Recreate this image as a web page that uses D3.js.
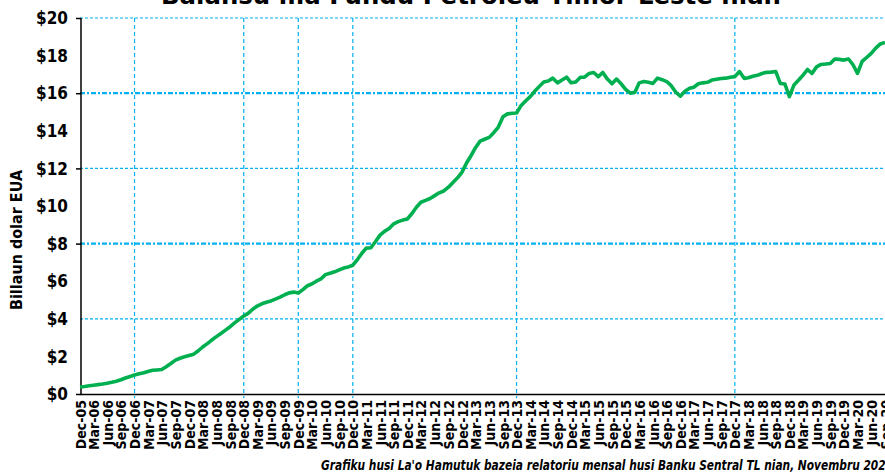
<!DOCTYPE html>
<html>
<head>
<meta charset="utf-8">
<script src="https://cdn.jsdelivr.net/npm/d3@7"></script>
<style>
  body { margin: 0; background: #fff; }
  svg { display: block; }
  text { font-family: "Liberation Sans Narrow", "DejaVu Sans Condensed", "Liberation Sans", sans-serif; }
</style>
</head>
<body>
<div id="chart"></div>
<script>
// monthly balance of the Petroleum Fund, billion USD, Dec-05 .. Sep-20
const balances = [
  0.37, 0.40, 0.44, 0.47, 0.50, 0.53, 0.57, 0.62, 0.68, 0.76, 0.85, 0.93,
  1.01, 1.08, 1.13, 1.20, 1.26, 1.28, 1.30, 1.45, 1.62, 1.80, 1.90, 1.98,
  2.05, 2.12, 2.30, 2.50, 2.68, 2.87, 3.05, 3.22, 3.40, 3.58, 3.78, 3.97,
  4.15, 4.30, 4.52, 4.68, 4.80, 4.88, 4.95, 5.05, 5.15, 5.28, 5.38, 5.42,
  5.37, 5.55, 5.76, 5.85, 6.00, 6.12, 6.35, 6.42, 6.50, 6.60, 6.70, 6.76,
  6.85, 7.15, 7.50, 7.76, 7.78, 8.10, 8.45, 8.65, 8.80, 9.05, 9.17, 9.25,
  9.31, 9.60, 9.95, 10.20, 10.30, 10.40, 10.55, 10.70, 10.80, 11.00, 11.25, 11.50,
  11.80, 12.30, 12.70, 13.10, 13.45, 13.55, 13.65, 13.90, 14.20, 14.75, 14.90, 14.93,
  14.95, 15.35, 15.60, 15.80, 16.10, 16.35, 16.60, 16.65, 16.80, 16.55, 16.70, 16.85,
  16.55, 16.60, 16.85, 16.85, 17.05, 17.10, 16.88, 17.10, 16.75, 16.50, 16.75, 16.50,
  16.20, 16.00, 16.05, 16.55, 16.62, 16.58, 16.52, 16.80, 16.72, 16.62, 16.40, 16.05,
  15.84, 16.10, 16.26, 16.32, 16.50, 16.55, 16.58, 16.70, 16.74, 16.78, 16.80, 16.85,
  16.88, 17.15, 16.79, 16.82, 16.90, 16.95, 17.05, 17.11, 17.12, 17.15, 16.52, 16.49,
  15.82, 16.44, 16.70, 16.95, 17.26, 17.05, 17.40, 17.53, 17.55, 17.58, 17.82, 17.80,
  17.76, 17.82, 17.50, 17.05, 17.69, 17.90, 18.12, 18.40, 18.62, 18.70
];
const firstMonth = new Date(2005, 11, 1);
const months = balances.map((v, i) => d3.timeMonth.offset(firstMonth, i));

const yTicks = [0, 2, 4, 6, 8, 10, 12, 14, 16, 18, 20];
const yGridMajor = [8, 16];
const yGridMinor = [4, 12, 20];
const yAxisTicks = [0, 8, 12, 16, 20];
// vertical marker lines (December of these years)
const markerMonths = [new Date(2006, 11, 1), new Date(2008, 11, 1), new Date(2009, 11, 1),
  new Date(2010, 11, 1), new Date(2013, 11, 1), new Date(2017, 11, 1)];

const titleText = "Balansu ma Fundu Petroleu Timor-Leste nian";
const yLabelText = "Billaun dolar EUA";
const sourceText = "Grafiku husi La'o Hamutuk bazeia relatoriu mensal husi Banku Sentral TL nian, Novembru 2020";

const W = 885, H = 475;
const margin = {top: 18, right: 0, bottom: 81, left: 80};

const svg = d3.select("#chart").append("svg")
    .attr("width", W)
    .attr("height", H);

const x = d3.scaleTime()
    .domain([months[0], months[months.length - 1]])
    .range([margin.left, W - margin.right]);

const y = d3.scaleLinear()
    .domain([0, 20])
    .range([H - margin.bottom, margin.top]);

const blue = "#00b0f0";

// horizontal grid
svg.append("g").selectAll("line")
    .data(yGridMinor)
    .join("line")
    .attr("x1", margin.left).attr("x2", W)
    .attr("y1", d => y(d)).attr("y2", d => y(d))
    .attr("stroke", blue).attr("stroke-width", 1.2)
    .attr("stroke-dasharray", "3,2");

svg.append("g").selectAll("line")
    .data(yGridMajor)
    .join("line")
    .attr("x1", margin.left).attr("x2", W)
    .attr("y1", d => y(d)).attr("y2", d => y(d))
    .attr("stroke", blue).attr("stroke-width", 2.2)
    .attr("stroke-dasharray", "5,2,2,2");

// vertical markers
svg.append("g").selectAll("line")
    .data(markerMonths)
    .join("line")
    .attr("x1", d => x(d)).attr("x2", d => x(d))
    .attr("y1", margin.top).attr("y2", H - margin.bottom + 4)
    .attr("stroke", blue).attr("stroke-width", 1.2)
    .attr("stroke-dasharray", "4,3");

// y axis
const yAxis = svg.append("g")
    .attr("transform", `translate(${margin.left + 1},0)`)
    .call(d3.axisLeft(y).tickValues(yAxisTicks).tickSize(5).tickFormat(""));
yAxis.select(".domain").attr("stroke", "#000").attr("stroke-width", 1.5).attr("d", `M0,${y(20)}V${y(0)}`);
yAxis.selectAll(".tick line").attr("stroke", "#000").attr("stroke-width", 1.5);

svg.append("g").selectAll("text")
    .data(yTicks)
    .join("text")
    .attr("x", 68)
    .attr("y", d => y(d))
    .attr("dy", "0.36em")
    .attr("text-anchor", "end")
    .attr("font-size", 17)
    .attr("font-weight", "bold")
    .attr("fill", "#000")
    .text(d => "$" + d);

// x axis
const quarterTicks = months.filter((d, i) => i % 3 === 0);
const xAxis = svg.append("g")
    .attr("transform", `translate(0,${y(0)})`)
    .call(d3.axisBottom(x).tickValues(quarterTicks).tickSize(0).tickFormat(d3.timeFormat("%b-%y")));
xAxis.select(".domain").attr("stroke", "#000").attr("stroke-width", 1.5);
xAxis.selectAll(".tick text")
    .attr("transform", "rotate(-90)")
    .attr("x", -6)
    .attr("y", 0)
    .attr("dy", "0.36em")
    .attr("text-anchor", "end")
    .attr("font-size", 14)
    .attr("font-weight", "bold")
    .attr("fill", "#000")
    .style("font-family", "'Liberation Sans Narrow', 'DejaVu Sans Condensed', sans-serif");

// line
const line = d3.line()
    .x((d, i) => x(months[i]))
    .y(d => y(d));

svg.append("path")
    .datum(balances)
    .attr("fill", "none")
    .attr("stroke", "#00b050")
    .attr("stroke-width", 3.6)
    .attr("stroke-linejoin", "round")
    .attr("d", line);

// title (mostly cut off at the top)
svg.append("text")
    .attr("x", 161).attr("y", 4)
    .attr("textLength", 620)
    .attr("lengthAdjust", "spacingAndGlyphs")
    .attr("font-size", 24)
    .attr("font-weight", "bold")
    .text(titleText);

// y label
svg.append("text")
    .attr("transform", `translate(22,240) rotate(-90)`)
    .attr("text-anchor", "middle")
    .attr("font-size", 16)
    .attr("font-weight", "bold")
    .text(yLabelText);

// source note
svg.append("text")
    .attr("x", 321).attr("y", 470)
    .attr("textLength", 572)
    .attr("lengthAdjust", "spacingAndGlyphs")
    .attr("font-size", 13.5)
    .attr("font-style", "italic")
    .attr("font-weight", "bold")
    .text(sourceText);
</script>
</body>
</html>
